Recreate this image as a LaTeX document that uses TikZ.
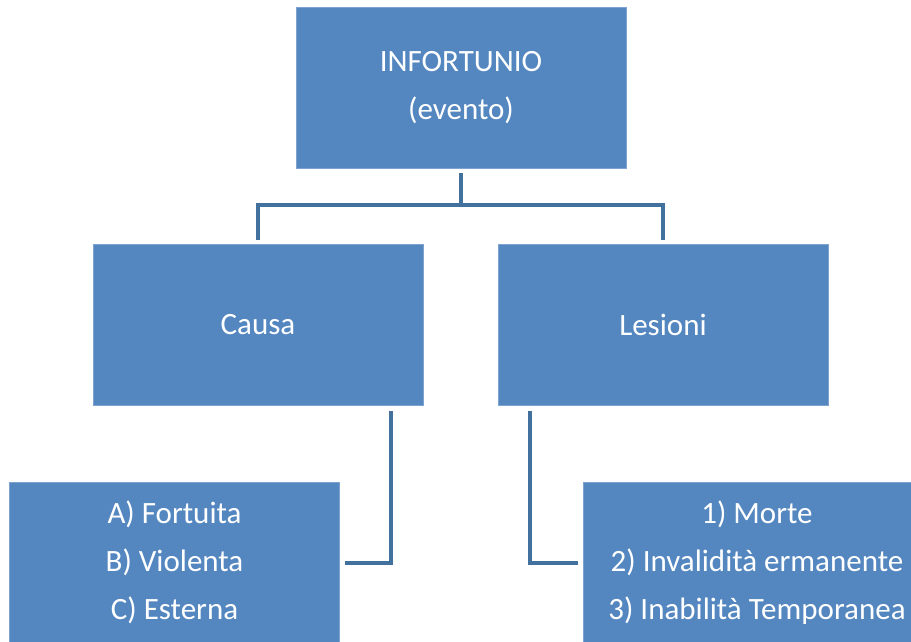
\documentclass[tikz,border=0pt]{standalone}
\usepackage{fontspec}
\setmainfont{Carlito}
\definecolor{boxblue}{HTML}{5487C0}
\definecolor{boxedge}{HTML}{7FA3D0}
\definecolor{linkblue}{HTML}{41719C}
\begin{document}
\begin{tikzpicture}[x=1pt,y=-1pt,
  box/.style={rectangle, fill=boxblue, draw=boxedge, line width=0.6pt,
    minimum width=330pt, minimum height=161pt, inner sep=0pt,
    text=white, align=center, font=\fontsize{31}{48}\selectfont},
  conn/.style={draw=linkblue, line width=4pt, line cap=rect}]
\useasboundingbox (0,0) rectangle (911,641);
\begin{scope}
\clip (0,0) rectangle (911,641);
\node[box] (top) at (461,87.5) {INFORTUNIO\\(evento)};
\node[box] (causa) at (258,324.5) {Causa};
\node[box] (lesioni) at (663,324.5) {Lesioni};
\node[box] (bl) at (174.5,562.5) {A) Fortuita\\B) Violenta\\C) Esterna};
\node[box, minimum width=348pt] (br) at (757,562.5) {1) Morte\\2) Invalidità ermanente\\3) Inabilità Temporanea};
\end{scope}
\draw[conn] ([yshift=-7pt]top.south) -- ++(0,30) coordinate (j);
\draw[conn] ([yshift=6pt]causa.north) |- (j) -| ([yshift=6pt]lesioni.north);
\draw[conn] ([xshift=133pt,yshift=-8pt]causa.south) |- ([xshift=7pt]bl.east);
\draw[conn] ([xshift=-133pt,yshift=-8pt]lesioni.south) |- ([xshift=-7pt]br.west);
\end{tikzpicture}
\end{document}
